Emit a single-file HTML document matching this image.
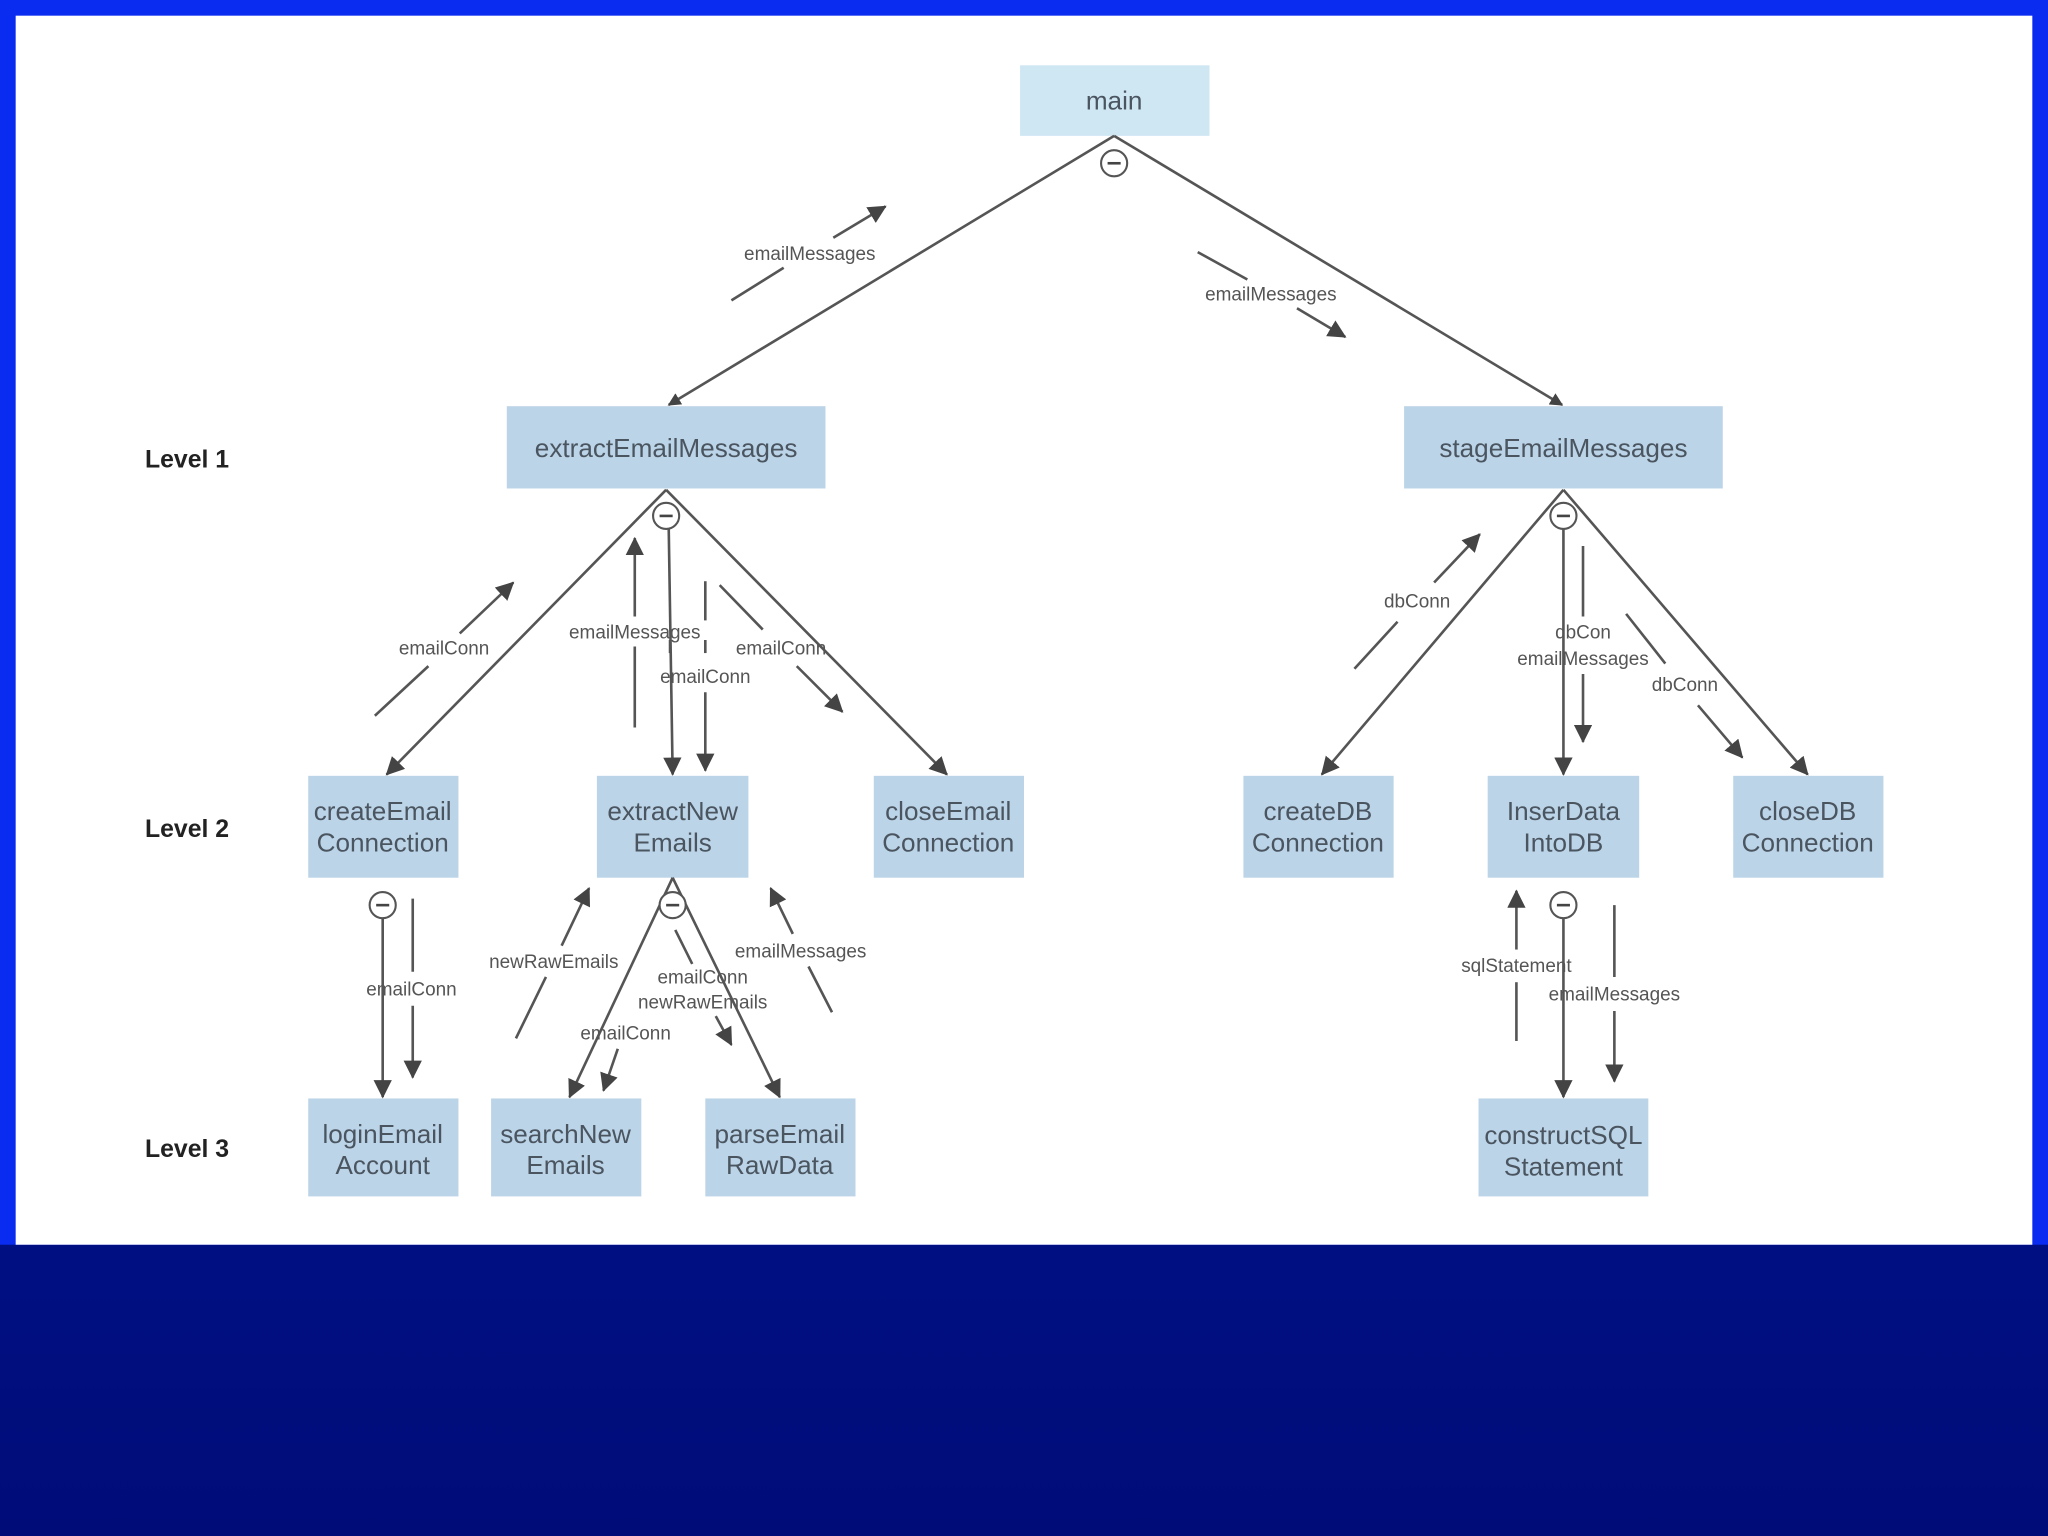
<!DOCTYPE html>
<html><head><meta charset="utf-8"><style>
html,body{margin:0;padding:0;width:2048px;height:1536px;overflow:hidden;background:#001a9c}
svg{display:block}
.b{fill:#bcd4e8}
.t{font-family:"Liberation Sans",sans-serif;font-size:20px;fill:#4a5560;text-anchor:middle}
.l{font-family:"Liberation Sans",sans-serif;font-size:14.5px;fill:#555;text-anchor:middle}
.lv{font-family:"Liberation Sans",sans-serif;font-size:19px;font-weight:bold;fill:#222}
.ln{stroke:#555;stroke-width:2;fill:none}
.c{fill:#fff;stroke:#555;stroke-width:1.6}
</style></head><body>
<svg width="2048" height="1536" viewBox="0 0 1568 1176" xmlns="http://www.w3.org/2000/svg">
<defs>
<linearGradient id="bg" x1="0" y1="0" x2="0" y2="1"><stop offset="0" stop-color="#0020b0"/><stop offset="1" stop-color="#000c78"/></linearGradient>
<marker id="a" markerWidth="10" markerHeight="10" refX="9" refY="5" orient="auto" markerUnits="userSpaceOnUse" viewBox="0 0 10 10"><path d="M0,0 L10,5 L0,10 z" fill="#444"/></marker>
<marker id="s" markerWidth="14" markerHeight="14" refX="13" refY="7" orient="auto" markerUnits="userSpaceOnUse" viewBox="0 0 14 14"><path d="M0,0 L14,7 L0,14 z" fill="#444"/></marker>
</defs>
<rect x="0" y="0" width="1568" height="1176" fill="url(#bg)"/>
<rect x="0" y="0" width="1568" height="953" fill="#0a2cf0"/>
<rect x="12" y="12" width="1544" height="941" fill="#fff"/>

<!-- boxes -->
<rect x="781" y="50" width="145" height="54" fill="#cfe6f3"/>
<text class="t" x="853" y="84">main</text>
<rect class="b" x="388" y="311" width="244" height="63"/>
<text class="t" x="510" y="350">extractEmailMessages</text>
<rect class="b" x="1075" y="311" width="244" height="63"/>
<text class="t" x="1197" y="350">stageEmailMessages</text>

<g>
<rect class="b" x="236" y="594" width="115" height="78"/><text class="t" x="293" y="628">createEmail</text><text class="t" x="293" y="652">Connection</text>
<rect class="b" x="457" y="594" width="116" height="78"/><text class="t" x="515" y="628">extractNew</text><text class="t" x="515" y="652">Emails</text>
<rect class="b" x="669" y="594" width="115" height="78"/><text class="t" x="726" y="628">closeEmail</text><text class="t" x="726" y="652">Connection</text>
<rect class="b" x="952" y="594" width="115" height="78"/><text class="t" x="1009" y="628">createDB</text><text class="t" x="1009" y="652">Connection</text>
<rect class="b" x="1139" y="594" width="116" height="78"/><text class="t" x="1197" y="628">InserData</text><text class="t" x="1197" y="652">IntoDB</text>
<rect class="b" x="1327" y="594" width="115" height="78"/><text class="t" x="1384" y="628">closeDB</text><text class="t" x="1384" y="652">Connection</text>
<rect class="b" x="236" y="841" width="115" height="75"/><text class="t" x="293" y="875">loginEmail</text><text class="t" x="293" y="899">Account</text>
<rect class="b" x="376" y="841" width="115" height="75"/><text class="t" x="433" y="875">searchNew</text><text class="t" x="433" y="899">Emails</text>
<rect class="b" x="540" y="841" width="115" height="75"/><text class="t" x="597" y="875">parseEmail</text><text class="t" x="597" y="899">RawData</text>
<rect class="b" x="1132" y="841" width="130" height="75"/><text class="t" x="1197" y="876">constructSQL</text><text class="t" x="1197" y="900">Statement</text>
</g>

<text class="lv" x="111" y="358">Level 1</text>
<text class="lv" x="111" y="641">Level 2</text>
<text class="lv" x="111" y="886">Level 3</text>

<!-- tree lines -->
<line class="ln" x1="853" y1="104" x2="512" y2="310" marker-end="url(#a)"/>
<line class="ln" x1="853" y1="104" x2="1196" y2="310" marker-end="url(#a)"/>
<line class="ln" x1="510" y1="375" x2="296" y2="593" marker-end="url(#s)"/>
<line class="ln" x1="512" y1="405" x2="515" y2="593" marker-end="url(#s)"/>
<line class="ln" x1="510" y1="375" x2="725" y2="593" marker-end="url(#s)"/>
<line class="ln" x1="1197" y1="375" x2="1012" y2="593" marker-end="url(#s)"/>
<line class="ln" x1="1197" y1="405" x2="1197" y2="593" marker-end="url(#s)"/>
<line class="ln" x1="1197" y1="375" x2="1384" y2="593" marker-end="url(#s)"/>
<line class="ln" x1="293" y1="703" x2="293" y2="840" marker-end="url(#s)"/>
<line class="ln" x1="515" y1="672" x2="436" y2="840" marker-end="url(#s)"/>
<line class="ln" x1="515" y1="672" x2="597" y2="840" marker-end="url(#s)"/>
<line class="ln" x1="1197" y1="703" x2="1197" y2="840" marker-end="url(#s)"/>

<!-- data arrows -->
<line class="ln" x1="560" y1="230" x2="600" y2="205"/><line class="ln" x1="638" y1="182" x2="678" y2="158" marker-end="url(#s)"/>
<line class="ln" x1="917" y1="193" x2="955" y2="214"/><line class="ln" x1="993" y1="236" x2="1030" y2="258" marker-end="url(#s)"/>
<line class="ln" x1="287" y1="548" x2="328" y2="510"/><line class="ln" x1="352" y1="485" x2="393" y2="446" marker-end="url(#s)"/>
<line class="ln" x1="486" y1="557" x2="486" y2="495"/><line class="ln" x1="486" y1="472" x2="486" y2="412" marker-end="url(#s)"/>
<line class="ln" x1="540" y1="445" x2="540" y2="475"/><line class="ln" x1="540" y1="490" x2="540" y2="500"/><line class="ln" x1="540" y1="530" x2="540" y2="590" marker-end="url(#s)"/>
<line class="ln" x1="513" y1="490" x2="513" y2="500"/>
<line class="ln" x1="551" y1="448" x2="584" y2="482"/><line class="ln" x1="610" y1="510" x2="645" y2="545" marker-end="url(#s)"/>
<line class="ln" x1="1037" y1="512" x2="1070" y2="476"/><line class="ln" x1="1098" y1="446" x2="1133" y2="409" marker-end="url(#s)"/>
<line class="ln" x1="1212" y1="418" x2="1212" y2="472"/><line class="ln" x1="1212" y1="516" x2="1212" y2="568" marker-end="url(#s)"/>
<line class="ln" x1="1245" y1="470" x2="1275" y2="508"/><line class="ln" x1="1300" y1="540" x2="1334" y2="580" marker-end="url(#s)"/>
<line class="ln" x1="316" y1="688" x2="316" y2="744"/><line class="ln" x1="316" y1="770" x2="316" y2="825" marker-end="url(#s)"/>
<line class="ln" x1="395" y1="795" x2="418" y2="748"/><line class="ln" x1="430" y1="724" x2="451" y2="680" marker-end="url(#s)"/>
<line class="ln" x1="517" y1="712" x2="530" y2="738"/><line class="ln" x1="548" y1="778" x2="560" y2="800" marker-end="url(#s)"/>
<line class="ln" x1="473" y1="803" x2="462" y2="835" marker-end="url(#s)"/>
<line class="ln" x1="637" y1="775" x2="619" y2="740"/><line class="ln" x1="607" y1="715" x2="590" y2="680" marker-end="url(#s)"/>
<line class="ln" x1="1161" y1="797" x2="1161" y2="752"/><line class="ln" x1="1161" y1="727" x2="1161" y2="682" marker-end="url(#s)"/>
<line class="ln" x1="1236" y1="693" x2="1236" y2="748"/><line class="ln" x1="1236" y1="774" x2="1236" y2="828" marker-end="url(#s)"/>

<!-- labels -->
<text class="l" x="620" y="199">emailMessages</text>
<text class="l" x="973" y="230">emailMessages</text>
<text class="l" x="340" y="501">emailConn</text>
<text class="l" x="486" y="489">emailMessages</text>
<text class="l" x="540" y="523">emailConn</text>
<text class="l" x="598" y="501">emailConn</text>
<text class="l" x="1085" y="465">dbConn</text>
<text class="l" x="1212" y="489">dbCon</text>
<text class="l" x="1212" y="509">emailMessages</text>
<text class="l" x="1290" y="529">dbConn</text>
<text class="l" x="315" y="762">emailConn</text>
<text class="l" x="424" y="741">newRawEmails</text>
<text class="l" x="538" y="753">emailConn</text>
<text class="l" x="538" y="772">newRawEmails</text>
<text class="l" x="479" y="796">emailConn</text>
<text class="l" x="613" y="733">emailMessages</text>
<text class="l" x="1161" y="744">sqlStatement</text>
<text class="l" x="1236" y="766">emailMessages</text>

<!-- circles -->
<g>
<circle class="c" cx="853" cy="125" r="10"/><line x1="848" y1="125" x2="858" y2="125" stroke="#444" stroke-width="2"/>
<circle class="c" cx="510" cy="395" r="10"/><line x1="505" y1="395" x2="515" y2="395" stroke="#444" stroke-width="2"/>
<circle class="c" cx="1197" cy="395" r="10"/><line x1="1192" y1="395" x2="1202" y2="395" stroke="#444" stroke-width="2"/>
<circle class="c" cx="293" cy="693" r="10"/><line x1="288" y1="693" x2="298" y2="693" stroke="#444" stroke-width="2"/>
<circle class="c" cx="515" cy="693" r="10"/><line x1="510" y1="693" x2="520" y2="693" stroke="#444" stroke-width="2"/>
<circle class="c" cx="1197" cy="693" r="10"/><line x1="1192" y1="693" x2="1202" y2="693" stroke="#444" stroke-width="2"/>
</g>
</svg>
</body></html>
